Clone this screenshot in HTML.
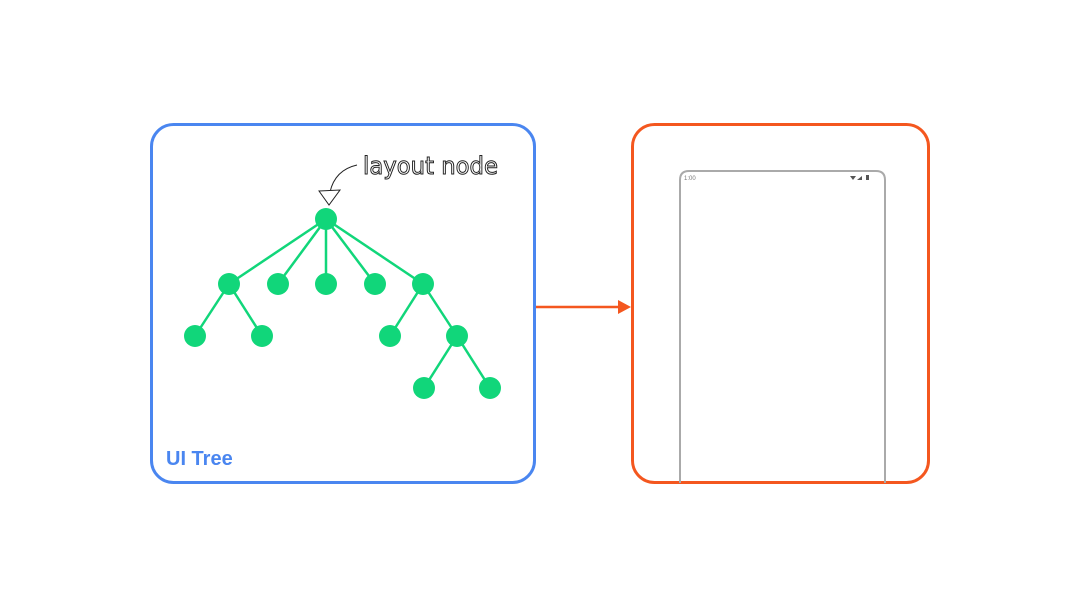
<!DOCTYPE html>
<html><head><meta charset="utf-8"><style>html,body{margin:0;padding:0;background:#fff;}</style></head>
<body>
<svg width="1080" height="608" viewBox="0 0 1080 608" xmlns="http://www.w3.org/2000/svg">
<rect x="151.5" y="124.5" width="383" height="358" rx="22" fill="none" stroke="#4a86f0" stroke-width="3"/>
<rect x="632.5" y="124.5" width="296" height="358" rx="22" fill="none" stroke="#f4571f" stroke-width="3"/>
<line x1="536" y1="307" x2="620" y2="307" stroke="#f4571f" stroke-width="2.5"/>
<polygon points="631,307 618,300 618,314" fill="#f4571f"/>
<path d="M680,483 L680,180 Q680,171 689,171 L876,171 Q885,171 885,180 L885,483" fill="none" stroke="#aaa" stroke-width="2"/>
<text x="684" y="180" font-family="Liberation Sans, sans-serif" font-size="6" fill="#777">1:00</text>
<path d="M850,176 l6,0 l-3,4z" fill="#555"/><path d="M857,180 l5,-4 l0,4z" fill="#555"/><rect x="866" y="175" width="3" height="5" fill="#555"/>
<g stroke="#11d67a" stroke-width="2.5">
<line x1="326" y1="219" x2="229" y2="284"/><line x1="326" y1="219" x2="278" y2="284"/><line x1="326" y1="219" x2="326" y2="284"/><line x1="326" y1="219" x2="375" y2="284"/><line x1="326" y1="219" x2="423" y2="284"/>
<line x1="229" y1="284" x2="195" y2="336"/><line x1="229" y1="284" x2="262" y2="336"/>
<line x1="423" y1="284" x2="390" y2="336"/><line x1="423" y1="284" x2="457" y2="336"/>
<line x1="457" y1="336" x2="424" y2="388"/><line x1="457" y1="336" x2="490" y2="388"/>
</g>
<g fill="#11d67a">
<circle cx="326" cy="219" r="11"/><circle cx="229" cy="284" r="11"/><circle cx="278" cy="284" r="11"/><circle cx="326" cy="284" r="11"/><circle cx="375" cy="284" r="11"/><circle cx="423" cy="284" r="11"/>
<circle cx="195" cy="336" r="11"/><circle cx="262" cy="336" r="11"/><circle cx="390" cy="336" r="11"/><circle cx="457" cy="336" r="11"/>
<circle cx="424" cy="388" r="11"/><circle cx="490" cy="388" r="11"/>
</g>
<path d="M357,165 Q335,170 330,192" fill="none" stroke="#222" stroke-width="1"/>
<polygon points="319,191 340,190 329,205" fill="#fff" stroke="#222" stroke-width="1"/>
<text x="363" y="174" font-family="DejaVu Sans, sans-serif" font-size="24" fill="#fff" stroke="#222" stroke-width="1" textLength="135" lengthAdjust="spacingAndGlyphs">layout node</text>
<text x="166" y="465" font-family="Liberation Sans, sans-serif" font-weight="bold" font-size="20" fill="#4a86f0">UI Tree</text>
</svg>
</body></html>
